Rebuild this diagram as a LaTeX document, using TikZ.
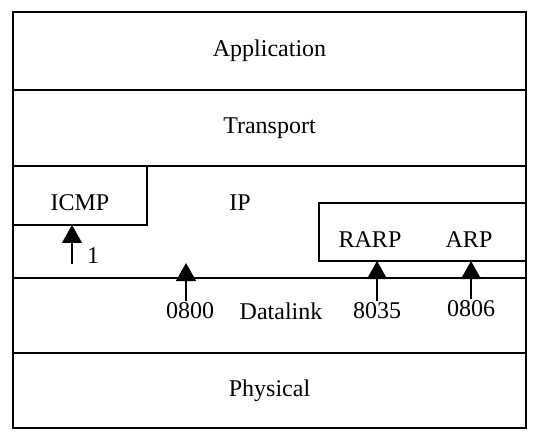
\documentclass[tikz,border=0pt]{standalone}
\usepackage{fontspec}
\setmainfont{Liberation Serif}
\usepackage{tikz}
\usetikzlibrary{positioning,arrows.meta,calc}
\tikzset{
  layer/.style={draw=black, line width=0.8pt, inner sep=0pt, outer sep=0pt,
    minimum width=256.5pt, font=\fontsize{12}{14}\selectfont},
  proto/.style={draw=black, line width=0.8pt, inner sep=0pt, outer sep=0pt},
  lbl/.style={font=\fontsize{12}{14}\selectfont, inner sep=1pt},
  uparrow/.style={-{Triangle[length=9pt, width=10pt]}, line width=0.6pt, draw=black},
}
\begin{document}
\begin{tikzpicture}[x=0.5pt,y=-0.5pt]
\useasboundingbox (0,0) rectangle (533,437);
% five stacked layers, all the width of the frame
\node[layer, minimum height=39pt] (app) at (269.5,51) {Application};
\node[layer, minimum height=38pt] (trans) at (269.5,128) {Transport};
\node[layer, minimum height=56pt] (iplayer) at (269.5,222) {};
\node[layer, minimum height=37.5pt] (dlayer) at (269.5,315.5) {};
\node[layer, minimum height=37.5pt] (phys) at (269.5,390.5) {Physical};
% boxes that sit inside the IP layer
\node[proto, minimum width=67pt, minimum height=29.5pt] (icmpbox) at (80,195.5) {};
\node[proto, minimum width=103.5pt, minimum height=29pt] (arpbox) at (422.5,232) {};
\node[lbl] (icmp) at (80,203) {ICMP};
\node[lbl] (ip) at (240,203) {IP};
\node[lbl] (rarp) at (370,240) {RARP};
\node[lbl] (arp) at (469,240) {ARP};
\node[lbl] (datalink) at (281,311) {Datalink};
\node[lbl] (n0800) at (190,311) {0800};
\node[lbl] (n8035) at (377,311) {8035};
\node[lbl] (n0806) at (471,309) {0806};
\node[lbl] (one) at (93,256) {1};
% demultiplexing arrows
\coordinate (t1) at (72,264);
\coordinate (tip0800) at (186,263);
\draw[uparrow] (t1) -- (t1 |- icmpbox.south);
\draw[uparrow] (tip0800 |- n0800.north) -- (tip0800);
\foreach \k in {8035,0806}{
  \draw[uparrow] (n\k.north) -- (n\k.north |- arpbox.south);}
\end{tikzpicture}
\end{document}
